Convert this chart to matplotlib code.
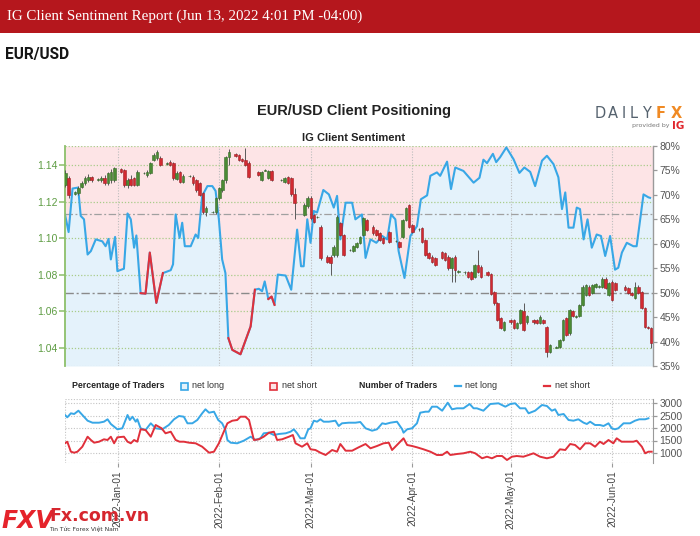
import numpy as np
import matplotlib
matplotlib.use('Agg')
import matplotlib.pyplot as plt
import matplotlib.dates as mdates
from matplotlib.patches import Rectangle
from matplotlib.lines import Line2D
from matplotlib.ticker import FixedLocator, FuncFormatter

# ---------------- data (days are counted from 2022-01-01) ----------------
candle_day = [-16, -15, -13, -12, -11, -10, -9, -8, -6, -5,
              -4, -3, -2, -1, 1, 2, 3, 4, 5, 6,
              8, 9, 10, 11, 12, 13, 15, 16, 17, 18,
              19, 20, 22, 23, 24, 25, 26, 27, 29, 30,
              31, 32, 33, 34, 36, 37, 38, 39, 40, 43,
              44, 45, 46, 47, 50, 51, 52, 53, 54, 57,
              58, 59, 60, 61, 62, 64, 65, 66, 67, 68,
              69, 71, 72, 73, 74, 75, 76, 78, 79, 80,
              81, 83, 85, 86, 87, 88, 89, 90, 92, 93,
              94, 95, 96, 97, 99, 100, 101, 102, 103, 104,
              106, 107, 108, 109, 110, 111, 113, 114, 115, 116,
              117, 118, 120, 121, 122, 123, 124, 125, 127, 128,
              129, 130, 131, 132, 134, 135, 136, 137, 138, 139,
              140, 141, 142, 143, 144, 145, 146, 147, 148, 149,
              150, 151, 152, 155, 156, 157, 158, 159, 160, 161,
              162, 163]
candle_open = [1.1291, 1.1329, 1.1240, 1.1247, 1.1282, 1.1302, 1.1320, 1.1332, 1.1318, 1.1320,
               1.1327, 1.1300, 1.1318, 1.1318, 1.1376, 1.1373, 1.1291, 1.1322, 1.1327, 1.1291,
               1.1355, 1.1345, 1.1356, 1.1427, 1.1437, 1.1437, 1.1406, 1.1418, 1.1409, 1.1325,
               1.1360, 1.1309, 1.1338, 1.1333, 1.1318, 1.1300, 1.1245, 1.1145, 1.1143, 1.1143,
               1.1220, 1.1263, 1.1318, 1.1444, 1.1460, 1.1455, 1.1433, 1.1425, 1.1411, 1.1363,
               1.1318, 1.1370, 1.1330, 1.1365, 1.1316, 1.1309, 1.1336, 1.1330, 1.1240, 1.1127,
               1.1175, 1.1218, 1.1127, 1.1116, 1.1063, 1.0900, 1.0900, 1.0908, 1.0908, 1.1082,
               1.1018, 1.0934, 1.0930, 1.0950, 1.0972, 1.1018, 1.1100, 1.1063, 1.1045, 1.1027,
               1.1000, 1.1036, 1.0983, 1.0980, 1.1008, 1.1100, 1.1181, 1.1072, 1.1048, 1.1054,
               1.0990, 1.0918, 1.0900, 1.0890, 1.0926, 1.0918, 1.0900, 1.0835, 1.0900, 1.0816,
               1.0813, 1.0815, 1.0815, 1.0788, 1.0854, 1.0845, 1.0815, 1.0806, 1.0708, 1.0644,
               1.0562, 1.0498, 1.0553, 1.0553, 1.0508, 1.0535, 1.0600, 1.0540, 1.0553, 1.0553,
               1.0535, 1.0553, 1.0515, 1.0380, 1.0403, 1.0405, 1.0444, 1.0562, 1.0480, 1.0600,
               1.0571, 1.0573, 1.0635, 1.0690, 1.0735, 1.0700, 1.0735, 1.0733, 1.0735, 1.0780,
               1.0690, 1.0763, 1.0754, 1.0735, 1.0726, 1.0699, 1.0672, 1.0735, 1.0708, 1.0619,
               1.0515, 1.0509]
candle_high = [1.1372, 1.1340, 1.1258, 1.1286, 1.1312, 1.1342, 1.1350, 1.1342, 1.1328, 1.1342,
               1.1346, 1.1362, 1.1376, 1.1390, 1.1382, 1.1380, 1.1330, 1.1346, 1.1334, 1.1372,
               1.1362, 1.1372, 1.1416, 1.1466, 1.1482, 1.1452, 1.1414, 1.1426, 1.1416, 1.1368,
               1.1370, 1.1350, 1.1344, 1.1345, 1.1326, 1.1306, 1.1250, 1.1175, 1.1150, 1.1226,
               1.1282, 1.1326, 1.1450, 1.1485, 1.1466, 1.1462, 1.1440, 1.1492, 1.1420, 1.1370,
               1.1370, 1.1378, 1.1372, 1.1372, 1.1322, 1.1334, 1.1342, 1.1336, 1.1276, 1.1190,
               1.1230, 1.1230, 1.1132, 1.1124, 1.1070, 1.0908, 1.0906, 1.0962, 1.1125, 1.1090,
               1.1024, 1.0940, 1.0962, 1.0980, 1.1014, 1.1118, 1.1106, 1.1070, 1.1052, 1.1034,
               1.1006, 1.1042, 1.0990, 1.0986, 1.1106, 1.1170, 1.1186, 1.1078, 1.1054, 1.1060,
               1.0996, 1.0924, 1.0906, 1.0896, 1.0932, 1.0924, 1.0906, 1.0896, 1.0906, 1.0824,
               1.0820, 1.0822, 1.0822, 1.0860, 1.0936, 1.0852, 1.0822, 1.0812, 1.0714, 1.0650,
               1.0568, 1.0550, 1.0560, 1.0560, 1.0541, 1.0614, 1.0646, 1.0582, 1.0560, 1.0560,
               1.0578, 1.0560, 1.0522, 1.0422, 1.0410, 1.0450, 1.0560, 1.0568, 1.0614, 1.0606,
               1.0578, 1.0641, 1.0742, 1.0752, 1.0742, 1.0752, 1.0756, 1.0742, 1.0786, 1.0786,
               1.0760, 1.0770, 1.0760, 1.0742, 1.0732, 1.0706, 1.0760, 1.0742, 1.0714, 1.0625,
               1.0520, 1.0515]
candle_low = [1.1280, 1.1222, 1.1234, 1.1238, 1.1274, 1.1292, 1.1310, 1.1308, 1.1312, 1.1306,
              1.1290, 1.1290, 1.1302, 1.1310, 1.1358, 1.1280, 1.1275, 1.1285, 1.1285, 1.1285,
              1.1350, 1.1335, 1.1350, 1.1420, 1.1430, 1.1395, 1.1402, 1.1394, 1.1318, 1.1318,
              1.1300, 1.1300, 1.1334, 1.1290, 1.1255, 1.1230, 1.1135, 1.1124, 1.1138, 1.1135,
              1.1210, 1.1255, 1.1300, 1.1400, 1.1444, 1.1420, 1.1414, 1.1395, 1.1330, 1.1340,
              1.1312, 1.1366, 1.1322, 1.1312, 1.1312, 1.1300, 1.1294, 1.1232, 1.1106, 1.1120,
              1.1165, 1.1100, 1.1084, 1.1110, 1.0880, 1.0864, 1.0800, 1.0900, 1.0900, 1.1010,
              1.0904, 1.0928, 1.0924, 1.0944, 1.0966, 1.1012, 1.1038, 1.1020, 1.1012, 1.0984,
              1.0968, 1.0975, 1.0978, 1.0946, 1.1000, 1.1094, 1.1056, 1.1030, 1.1042, 1.0975,
              1.0902, 1.0884, 1.0866, 1.0848, 1.0884, 1.0875, 1.0828, 1.0760, 1.0760, 1.0810,
              1.0806, 1.0782, 1.0774, 1.0782, 1.0812, 1.0784, 1.0792, 1.0692, 1.0638, 1.0547,
              1.0502, 1.0492, 1.0534, 1.0502, 1.0502, 1.0529, 1.0492, 1.0534, 1.0534, 1.0529,
              1.0529, 1.0529, 1.0350, 1.0374, 1.0398, 1.0399, 1.0438, 1.0465, 1.0474, 1.0567,
              1.0566, 1.0567, 1.0629, 1.0684, 1.0684, 1.0694, 1.0729, 1.0728, 1.0729, 1.0720,
              1.0684, 1.0656, 1.0711, 1.0711, 1.0693, 1.0684, 1.0666, 1.0693, 1.0611, 1.0509,
              1.0503, 1.0400]
candle_close = [1.1356, 1.1236, 1.1250, 1.1274, 1.1300, 1.1329, 1.1336, 1.1318, 1.1322, 1.1327,
                1.1300, 1.1355, 1.1363, 1.1382, 1.1363, 1.1291, 1.1318, 1.1291, 1.1291, 1.1363,
                1.1358, 1.1363, 1.1409, 1.1455, 1.1473, 1.1400, 1.1409, 1.1400, 1.1327, 1.1355,
                1.1309, 1.1340, 1.1340, 1.1300, 1.1263, 1.1236, 1.1145, 1.1163, 1.1145, 1.1220,
                1.1274, 1.1318, 1.1444, 1.1471, 1.1450, 1.1427, 1.1420, 1.1400, 1.1335, 1.1345,
                1.1363, 1.1373, 1.1365, 1.1318, 1.1318, 1.1327, 1.1300, 1.1240, 1.1190, 1.1181,
                1.1218, 1.1110, 1.1091, 1.1118, 1.0890, 1.0870, 1.0865, 1.0954, 1.1118, 1.1018,
                1.0910, 1.0936, 1.0955, 1.0972, 1.1008, 1.1110, 1.1045, 1.1027, 1.1018, 1.0990,
                1.0975, 1.0981, 1.0985, 1.0952, 1.1100, 1.1163, 1.1063, 1.1036, 1.1050, 1.0981,
                1.0908, 1.0890, 1.0872, 1.0854, 1.0890, 1.0881, 1.0835, 1.0890, 1.0826, 1.0818,
                1.0815, 1.0788, 1.0780, 1.0854, 1.0818, 1.0790, 1.0799, 1.0698, 1.0644, 1.0553,
                1.0508, 1.0544, 1.0540, 1.0508, 1.0535, 1.0608, 1.0498, 1.0575, 1.0540, 1.0535,
                1.0571, 1.0535, 1.0380, 1.0416, 1.0405, 1.0444, 1.0553, 1.0471, 1.0608, 1.0573,
                1.0573, 1.0635, 1.0735, 1.0745, 1.0690, 1.0745, 1.0750, 1.0737, 1.0780, 1.0726,
                1.0754, 1.0662, 1.0717, 1.0717, 1.0699, 1.0690, 1.0735, 1.0699, 1.0617, 1.0515,
                1.0509, 1.0427]

# percentage of traders net long
sent_day = [-16.1, -15.0, -13.8, -12.1, -11.3, -10.3, -9.2, -8.2, -6.7, -4.7,
            -3.7, -2.8, -2.1, -0.8, -0.1, 1.9, 3.0, 4.0, 5.0, 5.7,
            7.0, 8.5, 9.8, 11.8, 13.8, 16.2, 16.9, 17.7, 18.9, 19.7,
            20.5, 22.3, 23.8, 24.6, 25.8, 27.4, 28.9, 29.9, 30.9, 31.9,
            32.9, 33.8, 35.0, 37.5, 40.6, 41.9, 43.1, 44.1, 44.9, 46.0,
            47.0, 47.9, 48.9, 51.3, 53.0, 54.8, 56.0, 56.8, 57.9, 58.9,
            59.9, 60.9, 62.8, 64.5, 66.0, 67.0, 68.0, 69.6, 71.6, 72.6,
            74.6, 75.7, 77.2, 79.0, 80.8, 82.3, 83.5, 84.8, 85.8, 87.6,
            89.4, 91.4, 92.6, 94.5, 95.5, 97.5, 98.5, 100.6, 101.8, 103.1,
            105.6, 108.7, 110.5, 111.7, 112.8, 114.6, 115.6, 116.8, 118.7, 120.9,
            122.7, 124.2, 126.0, 127.5, 129.6, 131.1, 133.1, 134.6, 135.7, 136.7,
            137.7, 139.2, 140.2, 141.2, 142.3, 143.5, 144.8, 146.3, 147.6, 148.9,
            150.4, 151.9, 152.9, 154.0, 155.5, 157.5, 158.5, 159.3, 160.6, 162.1,
            162.6]
sent_pct = [66.0, 62.4, 71.3, 71.5, 65.7, 65.0, 57.8, 58.5, 60.9, 60.5,
            59.5, 61.0, 56.8, 61.4, 54.4, 54.9, 66.2, 65.0, 59.2, 61.7,
            49.9, 49.8, 58.2, 47.9, 54.0, 54.6, 55.8, 66.0, 61.2, 64.3,
            59.5, 59.5, 61.9, 61.2, 69.8, 71.8, 71.8, 70.8, 65.0, 56.8,
            54.0, 40.7, 38.3, 37.4, 43.1, 50.6, 50.8, 50.3, 52.3, 48.7,
            49.2, 47.5, 53.7, 53.5, 50.6, 62.9, 55.4, 55.4, 65.0, 60.2,
            66.7, 66.4, 71.0, 70.1, 67.4, 69.8, 60.9, 68.4, 68.4, 65.0,
            66.0, 57.1, 60.9, 60.2, 61.6, 60.9, 66.0, 65.0, 58.5, 53.0,
            61.6, 63.6, 69.1, 69.9, 73.9, 74.6, 73.9, 76.8, 71.2, 75.6,
            74.9, 72.5, 73.5, 77.2, 76.5, 78.4, 76.7, 77.7, 79.7, 77.3,
            74.5, 75.6, 74.7, 71.8, 77.0, 78.0, 76.3, 73.6, 67.1, 70.5,
            63.3, 63.3, 67.4, 67.1, 60.9, 65.0, 59.2, 61.9, 61.6, 57.5,
            61.6, 54.7, 55.1, 58.2, 60.2, 59.5, 59.5, 63.6, 70.1, 69.5,
            69.4]
# periods in which the sentiment line is drawn as net short (red)
short_spans = [(7.0, 13.8), (33.8, 41.9), (46.0, 47.9)]

# number of traders
long_day = [-16.1, -15.4, -14.3, -13.3, -12.0, -10.8, -9.2, -7.7, -5.7, -4.2,
            -3.1, -2.1, -0.1, 1.4, 3.0, 3.7, 4.5, 5.5, 6.0, 7.0,
            8.5, 10.1, 11.6, 13.6, 15.6, 17.2, 18.7, 20.2, 21.3, 22.8,
            24.3, 25.8, 26.8, 27.9, 29.4, 30.7, 31.9, 32.9, 33.5, 34.5,
            36.5, 38.5, 40.6, 42.1, 43.6, 44.6, 46.2, 47.7, 49.2, 51.3,
            52.8, 53.8, 54.8, 55.8, 57.1, 58.2, 58.9, 59.9, 60.9, 61.9,
            62.9, 64.5, 66.5, 67.5, 68.5, 70.6, 72.6, 74.1, 75.7, 77.7,
            79.2, 80.8, 81.8, 83.3, 85.3, 86.9, 87.3, 88.4, 89.9, 91.4,
            92.4, 94.0, 95.0, 96.0, 97.5, 99.1, 100.8, 102.1, 103.6, 105.6,
            107.5, 108.7, 109.7, 111.7, 113.8, 116.3, 118.4, 119.9, 121.4, 122.9,
            124.5, 125.5, 127.5, 129.6, 131.1, 132.6, 133.6, 134.6, 136.2, 137.7,
            139.2, 140.7, 142.3, 143.3, 144.3, 145.8, 147.3, 148.4, 149.9, 150.9,
            151.9, 152.9, 154.5, 156.5, 158.0, 159.3, 161.1, 162.1]
long_count = [2520, 2428, 2588, 2560, 2692, 2520, 2292, 2212, 2212, 2252,
              2348, 2160, 1948, 1988, 2520, 2320, 2452, 2252, 2348, 1988,
              1920, 2188, 1988, 1948, 2120, 2348, 2480, 2452, 2188, 2188,
              2320, 2588, 2748, 2612, 2652, 2320, 2188, 1920, 1520, 1412,
              1388, 1492, 1652, 1520, 1588, 1788, 1812, 1720, 1760, 1788,
              1852, 1948, 1788, 1588, 1588, 1948, 1988, 2292, 2252, 2348,
              2252, 2252, 2292, 2080, 2188, 2212, 2212, 2240, 1988, 1892,
              1948, 2188, 2160, 2212, 2252, 1948, 1812, 1948, 1988, 2188,
              2612, 2652, 2652, 2852, 2852, 2692, 3012, 2748, 2788, 2788,
              2960, 2788, 2788, 2692, 2960, 2988, 2852, 2960, 2988, 2788,
              2788, 2588, 2692, 2920, 2880, 2692, 2748, 2520, 2560, 2320,
              2292, 2348, 2212, 2160, 2252, 2120, 2120, 2080, 2188, 1988,
              1948, 1988, 2188, 2188, 2292, 2348, 2348, 2388]
short_day = [-16.1, -15.4, -14.3, -13.3, -12.3, -10.8, -9.2, -8.2, -7.2, -5.7,
             -4.2, -3.1, -2.1, -1.1, -0.1, 1.9, 3.0, 4.0, 5.0, 6.0,
             7.0, 8.5, 10.1, 11.6, 13.4, 14.6, 16.2, 17.7, 18.9, 20.2,
             21.8, 23.8, 25.8, 27.9, 29.4, 30.9, 32.4, 33.5, 35.0, 36.5,
             37.5, 39.0, 40.1, 41.6, 43.1, 44.6, 46.2, 47.7, 48.7, 50.2,
             52.3, 53.5, 54.3, 56.3, 57.9, 58.9, 60.4, 61.9, 63.5, 65.5,
             67.0, 68.0, 69.6, 71.6, 73.6, 75.7, 77.2, 79.2, 81.2, 82.8,
             83.8, 85.3, 87.3, 88.4, 89.9, 91.4, 93.4, 95.5, 97.5, 99.1,
             100.6, 101.6, 103.6, 105.6, 107.7, 109.2, 111.3, 112.8, 114.3, 115.8,
             117.4, 118.9, 120.4, 121.9, 123.9, 125.5, 127.0, 129.0, 131.1, 133.1,
             135.1, 136.7, 138.2, 139.7, 141.2, 142.8, 144.3, 145.8, 147.3, 148.4,
             149.9, 151.4, 152.4, 153.9, 155.5, 157.5, 158.5, 160.1, 161.1, 162.1,
             163.1]
short_count = [1388, 1452, 1052, 1012, 1052, 1252, 1652, 1520, 1412, 1452,
               1548, 1520, 1652, 1388, 1628, 1652, 1452, 1388, 1520, 1452,
               1948, 1920, 1652, 2120, 1988, 1788, 1852, 1520, 1452, 1452,
               1412, 1388, 1252, 1012, 1052, 1388, 1852, 2188, 2292, 2320,
               2452, 2452, 2320, 1520, 1548, 1652, 1812, 1852, 1520, 1548,
               1652, 1720, 1388, 1252, 1388, 1148, 1120, 1012, 920, 1120,
               1052, 1360, 1092, 1092, 1228, 1360, 1188, 1280, 1388, 1412,
               1120, 1320, 1588, 1320, 1280, 1228, 1148, 1052, 920, 920,
               1052, 920, 960, 988, 1052, 988, 788, 852, 788, 880,
               880, 720, 852, 880, 852, 920, 988, 852, 788, 852,
               1148, 1120, 1360, 1320, 1148, 1388, 1388, 1252, 1452, 1360,
               1520, 1388, 1588, 1452, 1452, 1452, 1492, 1252, 988, 1052,
               1052]

price_ticks = [1.04, 1.06, 1.08, 1.10, 1.12, 1.14]
pct_ticks = [35, 40, 45, 50, 55, 60, 65, 70, 75, 80]
count_ticks = [1000, 1500, 2000, 2500, 3000]
month_ticks = ['2022-01-01', '2022-02-01', '2022-03-01', '2022-04-01', '2022-05-01', '2022-06-01']

# ---------------- styling ----------------
BLUE = '#38a7e6'
RED = '#e0303b'
PINK_FILL = '#fde4e6'
BLUE_FILL = '#e4f2fb'
GREEN_AX = '#8cbf6a'
GREEN_TXT = '#5e9c43'

W, H = 700, 536
fig = plt.figure(figsize=(W / 100, H / 100), dpi=100)
fx = lambda px: px / W
fy = lambda py: 1 - py / H

# header banner
fig.patches.append(Rectangle((0, fy(33)), 1, 33 / H, transform=fig.transFigure,
                             facecolor='#b5171d', edgecolor='none', zorder=0))
fig.text(fx(7), fy(16), "IG Client Sentiment Report (Jun 13, 2022 4:01 PM -04:00)",
         color='white', family='Liberation Serif', fontsize=10.8, va='center', ha='left')
fig.text(fx(5), fy(55), "EUR/USD", weight='bold', family='Roboto', fontsize=11.2,
         color='#151515', va='center', ha='left')

fig.text(fx(354), fy(111), "EUR/USD Client Positioning", weight='bold',
         family='Liberation Sans', fontsize=10.5, color='#222222', ha='center', va='center')
fig.text(fx(354), fy(138), "IG Client Sentiment", weight='bold',
         family='Liberation Sans', fontsize=8, color='#222222', ha='center', va='center')

# DailyFX logo
logo = "DAILYFX"
logo_x = [600, 613, 624, 634, 646, 661, 676]
for ch, xx in zip(logo, logo_x):
    fig.text(fx(xx), fy(113), ch, family='DejaVu Sans', fontsize=10.5,
             color='#f08a24' if ch in 'FX' else '#55626e', ha='center', va='center',
             weight='bold' if ch in 'FX' else 'normal')
fig.text(fx(669), fy(126), "provided by", family='DejaVu Sans', fontsize=4.5,
         color='#777777', ha='right', va='center')
fig.text(fx(672), fy(126), "IG", family='DejaVu Sans', fontsize=7.5, weight='bold',
         color='#e0262d', ha='left', va='center')

# ---------------- main panel ----------------
N0 = mdates.date2num(np.datetime64('2022-01-01'))
xmin, xmax = N0 - 16.1, N0 + 163.5
mt = [mdates.date2num(np.datetime64(m)) for m in month_ticks]

ax = fig.add_axes([fx(65), fy(366), fx(653) - fx(65), (366 - 146) / H])
ax_pct = ax.twinx()
ax.set_xlim(xmin, xmax)
ax.set_ylim(1.0302, 1.1504)
ax_pct.set_ylim(35, 80)

xs = N0 + np.array(sent_day)
ps = np.array(sent_pct)
xs_fill = np.r_[xmin, xs, xmax]
ps_fill = np.r_[ps[0], ps, ps[-1]]
ax.fill_between(xs_fill, ps_fill, 80, color=PINK_FILL, lw=0, transform=ax_pct.transData, zorder=0.5)
ax.fill_between(xs_fill, 35, ps_fill, color=BLUE_FILL, lw=0, transform=ax_pct.transData, zorder=0.5)

# grid
for t in mt:
    ax.axvline(t, color='#bdbdbd', lw=0.8, ls=(0, (1, 1.5)), zorder=1)
for p in price_ticks + [1.1504]:
    ax.axhline(p, color='#a9cc8a', lw=0.9, ls=(0, (1, 1.5)), zorder=1)
ax.axhline(1.0302, color='#c8c8c8', lw=0.8, ls=(0, (1, 1.5)), zorder=1)
ax.plot([xmin, xmax], [50, 50], color='#8a8a8a', lw=1.0, ls=(0, (6, 2, 1.5, 2)),
        transform=ax_pct.transData, zorder=1.2)
ax.plot([xmin, xmax], [66, 66], color='#a0a0a0', lw=0.9, ls=(0, (6, 2, 1.5, 2)),
        transform=ax_pct.transData, zorder=1.2)

# sentiment line
ax.plot(xs, ps, color=BLUE, lw=1.5, transform=ax_pct.transData, zorder=2.5,
        solid_joinstyle='round')
sd = np.array(sent_day)
for s0, s1 in short_spans:
    m = (sd >= s0) & (sd <= s1)
    ax.plot(xs[m], ps[m], color=RED, lw=1.5, transform=ax_pct.transData, zorder=2.6,
            solid_joinstyle='round')

# candles
xc = N0 + np.array(candle_day)
o = np.array(candle_open); c = np.array(candle_close)
hi = np.array(candle_high); lo = np.array(candle_low)
up = c >= o
ax.vlines(xc, lo, hi, color='#5a5a5a', lw=0.7, zorder=3)
ax.bar(xc, np.maximum(np.abs(c - o), 0.00028), bottom=np.minimum(o, c), width=0.8,
       color=np.where(up, '#4b8b34', '#d22a31'),
       edgecolor=np.where(up, '#36692a', '#9c1f25'), linewidth=0.4, zorder=4)

# axes styling
for sp in ['top', 'bottom']:
    ax.spines[sp].set_visible(False)
    ax_pct.spines[sp].set_visible(False)
ax.spines['right'].set_visible(False)
ax_pct.spines['left'].set_visible(False)
ax.spines['left'].set_color(GREEN_AX)
ax.spines['left'].set_linewidth(1.3)
ax_pct.spines['right'].set_color('#9a9a9a')
ax_pct.spines['right'].set_linewidth(1.0)
ax.set_xticks([])
ax.yaxis.set_major_locator(FixedLocator(price_ticks))
ax.yaxis.set_major_formatter(FuncFormatter(lambda v, p: f"{v:.2f}"))
ax.tick_params(axis='y', colors=GREEN_AX, labelcolor=GREEN_TXT, labelsize=7.5,
               length=4, width=1.1, pad=1.5)
ax_pct.yaxis.set_major_locator(FixedLocator(pct_ticks))
ax_pct.yaxis.set_major_formatter(FuncFormatter(lambda v, p: f"{v:.0f}%"))
ax_pct.tick_params(axis='y', colors='#9a9a9a', labelcolor='#555555', labelsize=7.5,
                   length=3, width=0.9, pad=1.5)
for lab in ax.get_yticklabels() + ax_pct.get_yticklabels():
    lab.set_family('Liberation Sans')

# ---------------- legend row ----------------
ly = fy(386)
fig.text(fx(72), ly, "Percentage of Traders", weight='bold', family='Liberation Sans',
         fontsize=6.3, color='#222222', va='center')
fig.patches.append(Rectangle((fx(181), fy(390)), 7 / W, 7 / H, transform=fig.transFigure,
                             facecolor=BLUE_FILL, edgecolor=BLUE, lw=1.2))
fig.text(fx(192), ly, "net long", family='Liberation Sans', fontsize=6.5, color='#333333', va='center')
fig.patches.append(Rectangle((fx(270), fy(390)), 7 / W, 7 / H, transform=fig.transFigure,
                             facecolor=PINK_FILL, edgecolor=RED, lw=1.2))
fig.text(fx(282), ly, "net short", family='Liberation Sans', fontsize=6.5, color='#333333', va='center')
fig.text(fx(359), ly, "Number of Traders", weight='bold', family='Liberation Sans',
         fontsize=6.3, color='#222222', va='center')
fig.lines.append(Line2D([fx(455), fx(461)], [ly, ly], transform=fig.transFigure, color=BLUE, lw=1.6))
fig.text(fx(465), ly, "net long", family='Liberation Sans', fontsize=6.5, color='#333333', va='center')
fig.lines.append(Line2D([fx(544), fx(550)], [ly, ly], transform=fig.transFigure, color=RED, lw=1.6))
fig.text(fx(555), ly, "net short", family='Liberation Sans', fontsize=6.5, color='#333333', va='center')

# ---------------- lower panel ----------------
axl = fig.add_axes([fx(65), fy(463), fx(653) - fx(65), (463 - 399) / H])
axl.set_xlim(xmin, xmax)
axl.set_ylim(600, 3160)
for t in mt:
    axl.axvline(t, color='#c4c4c4', lw=0.8, ls=(0, (1, 1.5)), zorder=1)
for v in count_ticks + [3160, 600]:
    axl.axhline(v, color='#c4c4c4', lw=0.8, ls=(0, (1, 1.5)), zorder=1)
axl.axvline(xmin, color='#c4c4c4', lw=0.8, ls=(0, (1, 1.5)), zorder=1)
axl.plot(N0 + np.array(long_day), long_count, color=BLUE, lw=1.4, zorder=3)
axl.plot(N0 + np.array(short_day), short_count, color=RED, lw=1.4, zorder=3)
for sp in ['top', 'left', 'bottom']:
    axl.spines[sp].set_visible(False)
axl.spines['right'].set_color('#9a9a9a')
axl.yaxis.tick_right()
axl.yaxis.set_major_locator(FixedLocator(count_ticks))
axl.tick_params(axis='y', colors='#9a9a9a', labelcolor='#555555', labelsize=7.5,
                length=3, width=0.9, pad=1.5)
axl.xaxis.set_major_locator(FixedLocator(mt))
axl.xaxis.set_major_formatter(mdates.DateFormatter('%Y-%b-%d'))
axl.tick_params(axis='x', colors='#9a9a9a', labelcolor='#444444', labelsize=7.2,
                length=3, width=0.8, pad=2, labelrotation=90)
for lab in axl.get_yticklabels() + axl.get_xticklabels():
    lab.set_family('Liberation Sans')

# ---------------- watermark (drawn over the first date label, as in the source) ----------------
fig.text(fx(1), fy(521), "FXV", family='DejaVu Sans', weight='bold', style='italic',
         fontsize=17, color='#e5232b', va='center', ha='left', zorder=10)
fig.text(fx(49), fy(516), "Fx.com.vn", family='DejaVu Sans', weight='bold',
         fontsize=12.5, color='#d6262e', va='center', ha='left', zorder=10)
fig.text(fx(49), fy(530), "Tin Tức Forex Việt Nam", family='DejaVu Sans',
         fontsize=4.3, color='#333333', va='center', ha='left', zorder=10)

fig.savefig('out.png', dpi=100, facecolor='white')
